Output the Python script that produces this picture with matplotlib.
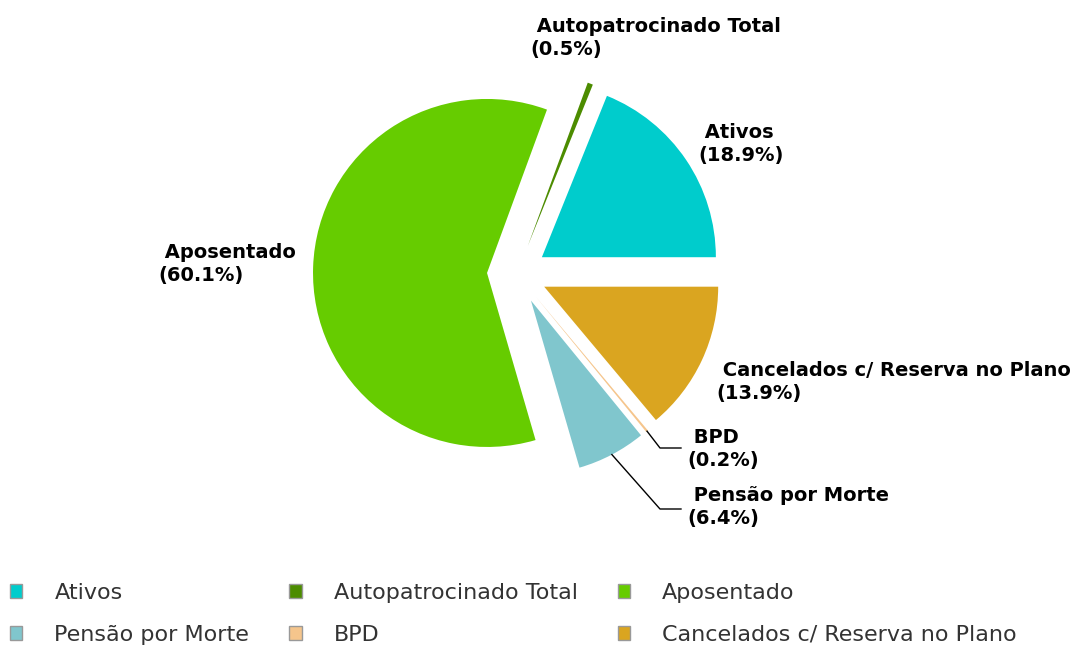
import matplotlib.pyplot as plt
from matplotlib.patches import Patch
import numpy as np

# datos
categorias = ['Ativos', 'Autopatrocinado Total', 'Aposentado',
              'Pensão por Morte', 'BPD', 'Cancelados c/ Reserva no Plano']
porcentajes = [18.9, 0.5, 60.1, 6.4, 0.2, 13.9]
colores = ['#00CCCC', '#4C8C00', '#66CC00', '#80C6CD', '#F5C58C', '#DAA520']

W, H = 1071, 646
cx, cy, R = 517, H - 274, 174
expl = 30  # en unidades de datos (pixeles)

fig = plt.figure(figsize=(W / 100, H / 100), dpi=100)
ax = fig.add_axes([0, 0, 1, 1])

wedges, _ = ax.pie(porcentajes, colors=colores, startangle=0, counterclock=True,
                   explode=[expl] * len(porcentajes), center=(cx, cy), radius=R,
                   wedgeprops=dict(linewidth=0))
ax.set_xlim(0, W)
ax.set_ylim(0, H)
ax.set_aspect('equal')
ax.axis('off')

# posicion de etiquetas (pixeles, centro izquierdo del bloque)
pos_etiquetas = [(698, 144), (530, 38), (158, 264), (687, 507), (687, 449), (716, 382)]
codos = {3: (660, 509), 4: (660, 448)}

for i, (w, pos) in enumerate(zip(wedges, pos_etiquetas)):
    ax.text(pos[0], H - pos[1], f' {categorias[i]}\n({porcentajes[i]}%)',
            ha='left', va='center', fontsize=14, fontweight='bold',
            family='DejaVu Sans', linespacing=1.25, color='black')
    if i in codos:
        ang = np.deg2rad((w.theta1 + w.theta2) / 2)
        cx_w, cy_w = w.center
        x0 = cx_w + R * np.cos(ang)
        y0 = cy_w + R * np.sin(ang)
        ex, ey = codos[i]
        ax.plot([x0, ex, 681], [y0, H - ey, H - ey], color='black', lw=1)

# leyenda (orden por filas)
handles = [Patch(facecolor=c, edgecolor='#999999', linewidth=1) for c in colores]
orden = [0, 3, 1, 4, 2, 5]
leg = fig.legend([handles[k] for k in orden], [categorias[k] for k in orden],
                 ncol=3, loc='upper left', bbox_to_anchor=(10 / W, 1 - 583 / H),
                 frameon=False, borderpad=0, borderaxespad=0,
                 handlelength=0.55, handleheight=0.55, handletextpad=1.45,
                 columnspacing=1.8, labelspacing=0.99,
                 prop={'family': 'DejaVu Sans', 'size': 16})
for t in leg.get_texts():
    t.set_color('#333333')

fig.savefig('out.png', dpi=100)
